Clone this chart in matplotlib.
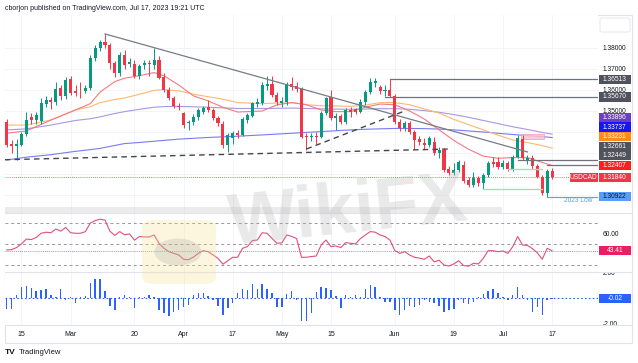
import numpy as np
import pandas as pd
import matplotlib
matplotlib.use("Agg")
import matplotlib.pyplot as plt
from matplotlib.patches import Rectangle, FancyBboxPatch, Circle

plt.rcParams['font.family'] = ['Liberation Sans', 'DejaVu Sans']

# ---- daily USDCAD candles, Feb 10 - Jul 17 2023 ----
dates = pd.bdate_range("2023-02-10", "2023-07-17")

opens = [1.3448, 1.3345, 1.3335, 1.3340, 1.3392, 1.3470, 1.3455, 1.3452, 1.3535, 1.3552,
         1.3545, 1.3608, 1.3573, 1.3651, 1.3597, 1.3597, 1.3595, 1.3608, 1.3754, 1.3798,
         1.3827, 1.3814, 1.3727, 1.3679, 1.3767, 1.3724, 1.3725, 1.3665, 1.3718, 1.3730,
         1.3718, 1.3743, 1.3663, 1.3600, 1.3560, 1.3524, 1.3489, 1.3441, 1.3449, 1.3470,
         1.3495, 1.3518, 1.3505, 1.3465, 1.3438, 1.3338, 1.3370, 1.3394, 1.3385, 1.3457,
         1.3477, 1.3533, 1.3540, 1.3617, 1.3630, 1.3578, 1.3540, 1.3545, 1.3629, 1.3620,
         1.3605, 1.3381, 1.3375, 1.3382, 1.3378, 1.3489, 1.3568, 1.3465, 1.3475, 1.3449,
         1.3505, 1.3508, 1.3497, 1.3544, 1.3592, 1.3635, 1.3612, 1.3595, 1.3600, 1.3572,
         1.3449, 1.3417, 1.3441, 1.3398, 1.3366, 1.3346, 1.3338, 1.3354, 1.3300, 1.3315,
         1.3225, 1.3203, 1.3220, 1.3245, 1.3170, 1.3150, 1.3180, 1.3155, 1.3195, 1.3255,
         1.3255, 1.3235, 1.3251, 1.3222, 1.3283, 1.3365, 1.3265, 1.3278, 1.3240, 1.3187,
         1.3108, 1.3215]
highs = [1.3460, 1.3360, 1.3365, 1.3400, 1.3497, 1.3490, 1.3495, 1.3562, 1.3570, 1.3565,
         1.3640, 1.3625, 1.3660, 1.3665, 1.3625, 1.3640, 1.3625, 1.3765, 1.3815, 1.3840,
         1.3867, 1.3825, 1.3740, 1.3780, 1.3790, 1.3750, 1.3745, 1.3725, 1.3745, 1.3745,
         1.3798, 1.3760, 1.3680, 1.3615, 1.3570, 1.3540, 1.3495, 1.3457, 1.3485, 1.3512,
         1.3525, 1.3552, 1.3515, 1.3478, 1.3450, 1.3395, 1.3405, 1.3410, 1.3470, 1.3490,
         1.3545, 1.3560, 1.3640, 1.3665, 1.3665, 1.3590, 1.3565, 1.3640, 1.3664, 1.3640,
         1.3615, 1.3395, 1.3395, 1.3400, 1.3500, 1.3568, 1.3600, 1.3490, 1.3485, 1.3515,
         1.3520, 1.3515, 1.3555, 1.3600, 1.3655, 1.3655, 1.3625, 1.3625, 1.3651, 1.3580,
         1.3460, 1.3450, 1.3450, 1.3410, 1.3380, 1.3370, 1.3380, 1.3375, 1.3330, 1.3325,
         1.3240, 1.3251, 1.3265, 1.3260, 1.3185, 1.3210, 1.3190, 1.3205, 1.3260, 1.3283,
         1.3283, 1.3265, 1.3262, 1.3290, 1.3386, 1.3386, 1.3290, 1.3290, 1.3250, 1.3195,
         1.3225, 1.3228]
lows = [1.3330, 1.3300, 1.3265, 1.3335, 1.3380, 1.3440, 1.3440, 1.3440, 1.3520, 1.3510,
        1.3530, 1.3550, 1.3555, 1.3575, 1.3570, 1.3560, 1.3585, 1.3600, 1.3740, 1.3785,
        1.3800, 1.3700, 1.3660, 1.3665, 1.3700, 1.3710, 1.3655, 1.3650, 1.3700, 1.3665,
        1.3700, 1.3650, 1.3590, 1.3550, 1.3515, 1.3505, 1.3420, 1.3410, 1.3435, 1.3455,
        1.3485, 1.3495, 1.3455, 1.3430, 1.3325, 1.3306, 1.3345, 1.3370, 1.3380, 1.3445,
        1.3470, 1.3520, 1.3530, 1.3600, 1.3565, 1.3530, 1.3520, 1.3530, 1.3600, 1.3590,
        1.3370, 1.3316, 1.3355, 1.3345, 1.3370, 1.3480, 1.3455, 1.3410, 1.3440, 1.3440,
        1.3470, 1.3485, 1.3490, 1.3530, 1.3580, 1.3615, 1.3580, 1.3570, 1.3567, 1.3440,
        1.3405, 1.3405, 1.3390, 1.3320, 1.3340, 1.3320, 1.3330, 1.3290, 1.3275, 1.3210,
        1.3195, 1.3195, 1.3210, 1.3155, 1.3140, 1.3140, 1.3145, 1.3127, 1.3185, 1.3235,
        1.3225, 1.3222, 1.3215, 1.3215, 1.3275, 1.3265, 1.3250, 1.3225, 1.3180, 1.3100,
        1.3092, 1.3175]
closes = [1.3338, 1.3335, 1.3342, 1.3392, 1.3458, 1.3457, 1.3482, 1.3537, 1.3553, 1.3545,
          1.3603, 1.3573, 1.3648, 1.3587, 1.3587, 1.3594, 1.3611, 1.3754, 1.3798, 1.3830,
          1.3816, 1.3727, 1.3679, 1.3767, 1.3720, 1.3733, 1.3665, 1.3715, 1.3730, 1.3722,
          1.3743, 1.3656, 1.3600, 1.3560, 1.3524, 1.3517, 1.3433, 1.3449, 1.3470, 1.3505,
          1.3513, 1.3505, 1.3465, 1.3441, 1.3338, 1.3386, 1.3396, 1.3385, 1.3460, 1.3481,
          1.3537, 1.3544, 1.3624, 1.3629, 1.3578, 1.3544, 1.3548, 1.3629, 1.3616, 1.3605,
          1.3375, 1.3375, 1.3382, 1.3375, 1.3489, 1.3560, 1.3465, 1.3475, 1.3449, 1.3505,
          1.3497, 1.3497, 1.3544, 1.3592, 1.3640, 1.3642, 1.3594, 1.3602, 1.3572, 1.3449,
          1.3417, 1.3441, 1.3398, 1.3360, 1.3350, 1.3338, 1.3370, 1.3298, 1.3315, 1.3219,
          1.3203, 1.3219, 1.3255, 1.3165, 1.3150, 1.3180, 1.3156, 1.3195, 1.3251, 1.3249,
          1.3235, 1.3251, 1.3222, 1.3283, 1.3370, 1.3275, 1.3278, 1.3240, 1.3187, 1.3108,
          1.3215, 1.3184]

# moving averages, sampled along the session index
ma_idx = [0, 4, 9, 14, 17, 19, 22, 24, 27, 30, 32, 35, 38, 41, 44, 47, 52, 55, 58, 61,
          64, 67, 70, 73, 76, 79, 82, 85, 88, 91, 94, 97, 100, 103, 106, 109, 111]
ma_red = [1.3394, 1.3405, 1.3457, 1.3505, 1.3535, 1.3590, 1.3640, 1.3656, 1.3668, 1.3683,
          1.3668, 1.3624, 1.3572, 1.3548, 1.3518, 1.3495, 1.3500, 1.3529, 1.3540, 1.3530,
          1.3505, 1.3497, 1.3497, 1.3518, 1.3533, 1.3530, 1.3500, 1.3462, 1.3410, 1.3360,
          1.3318, 1.3285, 1.3275, 1.3278, 1.3278, 1.3255, 1.32407]
ma_orange = [1.3433, 1.3433, 1.3457, 1.3505, 1.3520, 1.3540, 1.3555, 1.3562, 1.3580, 1.3598,
             1.3602, 1.3596, 1.3580, 1.3568, 1.3556, 1.3540, 1.3535, 1.3538, 1.3540, 1.3530,
             1.3525, 1.3524, 1.3522, 1.3528, 1.3540, 1.3540, 1.3530, 1.3510, 1.3490, 1.3460,
             1.3435, 1.3410, 1.3385, 1.3362, 1.3350, 1.3335, 1.33231]
ma_purple = [1.3410, 1.3415, 1.3433, 1.3455, 1.3463, 1.3472, 1.3488, 1.3497, 1.3508, 1.3518,
             1.3521, 1.3522, 1.3520, 1.3518, 1.3515, 1.3512, 1.3512, 1.3513, 1.3514, 1.3512,
             1.3510, 1.3509, 1.3508, 1.3509, 1.3511, 1.3511, 1.3508, 1.3502, 1.3494, 1.3483,
             1.3470, 1.3455, 1.3440, 1.3425, 1.3412, 1.3398, 1.33896]
ma_blue = [1.3267, 1.3280, 1.3292, 1.3308, 1.3316, 1.3322, 1.3336, 1.3345, 1.3350, 1.3356,
           1.3360, 1.3366, 1.3370, 1.3374, 1.3377, 1.3380, 1.3386, 1.3390, 1.3394, 1.3398,
           1.3402, 1.3406, 1.3410, 1.3413, 1.3415, 1.3417, 1.3417, 1.3416, 1.3414, 1.3410,
           1.3405, 1.3400, 1.3394, 1.3388, 1.3383, 1.3378, 1.33737]

rsi = [44.2, 44.5, 46.5, 50.0, 54.5, 54.0, 56.0, 60.0, 61.0, 60.5, 64.0, 62.0, 65.5, 60.5,
       60.0, 60.0, 61.5, 69.5, 72.0, 73.3, 72.5, 62.0, 58.0, 61.6, 58.5, 59.4, 53.5, 56.9,
       56.5, 56.5, 58.4, 50.5, 45.8, 42.6, 41.0, 39.5, 35.4, 35.0, 37.5, 41.0, 43.6, 42.6,
       39.5, 36.3, 30.7, 34.1, 37.3, 37.3, 45.8, 47.4, 53.1, 53.6, 60.5, 60.0, 55.2, 50.5,
       51.0, 58.4, 57.0, 55.0, 37.3, 37.3, 38.0, 38.5, 48.9, 53.6, 47.4, 48.0, 46.5, 51.2,
       50.5, 50.0, 55.0, 58.4, 61.6, 61.0, 58.4, 56.9, 53.6, 43.6, 41.0, 42.6, 39.5, 37.3,
       36.5, 35.4, 38.5, 33.0, 34.5, 30.0, 29.0, 31.0, 34.0, 29.5, 28.8, 31.6, 31.0, 36.3,
       43.6, 43.5, 42.6, 43.3, 41.0, 47.4, 56.9, 48.9, 48.5, 45.5, 41.6, 35.4, 45.8, 43.41]

osc = [-0.85, -0.85, 0.26, 0.90, 0.95, 0.77, 0.59, 0.64, 0.69, 0.26, 0.13, 0.69, -0.13, 0.13,
       -0.38, 0.08, 0.20, 1.20, 1.54, 1.54, 0.59, -0.60, -0.90, 0.13, 0.26, 0.13, -0.77, 0.13,
       0.10, 0.26, 0.13, -0.90, -1.15, -1.36, -1.03, -0.90, -0.64, -0.51, 0.26, 0.44, 0.44,
       0.18, -0.13, -0.59, -1.28, -0.77, -0.38, 0.38, 0.69, 0.64, 1.10, 0.69, 1.10, 0.69, 0.44,
       -0.64, -0.69, 0.31, 0.59, -0.13, -1.80, -1.80, -1.15, 0.51, 0.90, 0.77, 0.64, 0.18,
       -0.77, 0.26, 0.13, 0.26, 0.13, 0.69, 1.03, 0.85, 0.08, -0.26, -0.26, -0.90, -1.28,
       -0.90, -0.59, -0.64, -0.51, -0.13, -0.26, -0.38, -0.59, -1.10, -0.90, -0.85, -0.13,
       -0.38, -0.44, -0.26, 0.13, 0.33, 0.59, 0.69, 0.38, 0.08, -0.13, 0.26, 0.85, 0.26,
       -0.13, -1.03, -0.64, -1.28, -0.13, -0.02]

# chart drawings
trend_x, trend_y = [20, 106], [1.3867, 1.3305]
support_x, support_y = [-0.4, 90], [1.3268, 1.3319]
rising_x, rising_y = [61, 81], [1.3319, 1.3500]
gray_levels = [(1.36513, 78), (1.35670, 77), (1.32661, 104), (1.32449, 110)]
green_levels = [(1.3222, 102, 109), (1.3127, 97, 109)]
zone_x, zone_y = (104.6, 109.3), (1.3365, 1.3390)
low_2023, low_start = 1.30922, 110
last_price = 1.31840

tick_dates = ["2023-02-15", "2023-03-01", "2023-03-20", "2023-04-03", "2023-04-17", "2023-05-01",
              "2023-05-15", "2023-06-01", "2023-06-19", "2023-07-03", "2023-07-17"]
tick_labels = ["15", "Mar", "20", "Apr", "17", "May", "15", "Jun", "19", "Jul", "17"]

GREEN, RED = "#089981", "#f23645"
TXT = "#131722"
W, H = 638, 363

fig = plt.figure(figsize=(W / 100, H / 100), dpi=100)


def px(x0, y0, x1, y1):
    return [x0 / W, 1 - y1 / H, (x1 - x0) / W, (y1 - y0) / H]


ax_osc = fig.add_axes(px(5, 272, 598, 325))
ax_rsi = fig.add_axes(px(5, 213, 598, 272), sharex=ax_osc)
ax = fig.add_axes(px(5, 15, 598, 213), sharex=ax_osc)

idx = np.arange(len(dates))
o, h, l, c = map(np.array, (opens, highs, lows, closes))
col = np.where(c >= o, GREEN, RED)

for a in (ax, ax_rsi, ax_osc):
    for s in a.spines.values():
        s.set_visible(False)
    a.yaxis.tick_right()
    a.tick_params(axis="y", length=0, pad=3.2, labelsize=4.8, labelcolor=TXT)
    a.tick_params(axis="x", length=0)
    a.set_facecolor("white")

ax.set_xlim(-0.35, 120.35)
ax.set_ylim(1.30143, 1.39571)
ax_rsi.set_ylim(23.38, 79.17)
ax_osc.set_ylim(-2.08, 2.05)


def y_of(a, v):
    return H - a.transData.transform((0, v))[1]


# value labels on the price scale, stacked upwards so they do not collide
price_labels = [
    (1.30922, "#5b9cf6", TXT),
    (1.31840, RED, "white"),
    (1.32407, "#ff1f1f", "white"),
    (1.32449, "#50535e", "white"),
    (1.32661, "#50535e", "white"),
    (1.33231, "#ff8c1a", "white"),
    (1.33737, "#1515f5", "white"),
    (1.33896, "#6a3fc4", "white"),
    (1.35670, "#50535e", "white"),
    (1.36513, "#50535e", "white"),
]
label_rows = []
prev = None
for v, bg, fg in price_labels:
    yt = y_of(ax, v)
    if prev is not None:
        yt = min(yt, prev - 9.6)
    label_rows.append((yt, v, bg, fg))
    prev = yt


def free(a, ticks, taken, gap=6.0):
    return [t for t in ticks if all(abs(y_of(a, t) - y) >= gap for y in taken)]


tick_pos = dates.get_indexer(pd.to_datetime(tick_dates))
ax_osc.set_xticks(tick_pos)
ax_osc.set_xticklabels(tick_labels)
ax_osc.tick_params(axis="x", pad=4.5, labelsize=5, labelcolor=TXT)
ax.tick_params(axis="x", labelbottom=False)
ax_rsi.tick_params(axis="x", labelbottom=False)

price_ticks = np.arange(1.31, 1.3851, 0.01)
shown = free(ax, price_ticks, [r[0] for r in label_rows])
ax.set_yticks(shown)
ax.set_yticklabels([f"{t:.5f}" for t in shown])
rsi_ticks = free(ax_rsi, [40, 60], [y_of(ax_rsi, rsi[-1])])
ax_rsi.set_yticks(rsi_ticks)
ax_rsi.set_yticklabels([f"{t:.2f}" for t in rsi_ticks])
osc_ticks = free(ax_osc, [-2, 0, 2], [y_of(ax_osc, osc[-1])])
ax_osc.set_yticks(osc_ticks)
ax_osc.set_yticklabels([f"{t:.2f}" for t in osc_ticks])

# faint grid
for a in (ax, ax_rsi, ax_osc):
    for t in tick_pos:
        a.axvline(t, color="#f0f3fa", lw=0.6, zorder=0)
for t in price_ticks:
    ax.axhline(t, color="#f0f3fa", lw=0.6, zorder=0)

# moving averages
ax.plot(ma_idx, ma_blue, color="#7a7af0", lw=0.8, zorder=1)
ax.plot(ma_idx, ma_purple, color="#a898e2", lw=0.8, zorder=1)
ax.plot(ma_idx, ma_orange, color="#ffb870", lw=0.8, zorder=1)
ax.plot(ma_idx, ma_red, color="#f47a82", lw=0.8, zorder=1)

# candles
ax.vlines(idx, l, h, colors=col, lw=0.7, zorder=3)
ax.bar(idx, np.maximum(np.abs(c - o), 0.0002), bottom=np.minimum(o, c), width=0.62,
       color=col, linewidth=0, zorder=3)

# drawings
ax.axhline(last_price, color=RED, lw=0.6, ls=(0, (1, 1.5)), zorder=2)
ax.plot(trend_x, trend_y, color="#787b86", lw=0.9, zorder=4)
ax.plot(support_x, support_y, color="#434651", lw=1.0, ls=(0, (4, 3)), zorder=4)
ax.plot(rising_x, rising_y, color="#434651", lw=1.0, ls=(0, (4, 3)), zorder=4)
for lvl, start in gray_levels:
    ax.plot([start, 120.35], [lvl, lvl], color="#6f727c", lw=0.9, zorder=4)
for lvl, x0, x1 in green_levels:
    ax.plot([x0, x1], [lvl, lvl], color="#a9dcbd", lw=1.0, zorder=4)
ax.add_patch(Rectangle((zone_x[0], zone_y[0]), zone_x[1] - zone_x[0], zone_y[1] - zone_y[0],
                       facecolor="#f7c3d2", edgecolor="#f09ab4", lw=0.6, alpha=0.85, zorder=2))
ax.plot([low_start, 120.35], [low_2023, low_2023], color="#5b9cf6", lw=0.8, zorder=4)
ax.text(119.3, low_2023 - 0.0019, "2023 Low", color="#5b9cf6", fontsize=4.8,
        ha="right", va="center", zorder=5)

# RSI pane
for lv in (70, 50, 30):
    ax_rsi.axhline(lv, color="#9598a1", lw=0.7, ls=(0, (3, 3)), zorder=1)
ax_rsi.axhline(rsi[-1], color="#ec407a", lw=0.6, ls=(0, (1, 1.5)), zorder=1)
ax_rsi.plot(idx, rsi, color="#e0507a", lw=0.8, zorder=3)

# oscillator pane
ax_osc.axhline(0, color="#2962ff", lw=0.8, ls=(0, (1.5, 2)), zorder=1)
ax_osc.bar(idx, osc, width=0.3, color="#2962ff", linewidth=0, zorder=3)

# ---- frame, separators, watermark ----
tf = fig.transFigure
fig.add_artist(Rectangle((5 / W, 1 - 343 / H), 627 / W, 328 / H, transform=tf, fill=False,
                         edgecolor="#e0e3eb", lw=0.8, zorder=0))
for yy in (213, 272, 325):
    fig.add_artist(plt.Line2D([5 / W, 632 / W], [1 - yy / H] * 2, transform=tf,
                              color="#e0e3eb", lw=0.8, zorder=2))
fig.add_artist(Rectangle((599 / W, 1 - 271.5 / H), 32 / W, 4.5 / H, transform=tf,
                         facecolor="white", edgecolor="none", zorder=1))
fig.add_artist(FancyBboxPatch((600 / W, 1 - 32 / H), 30 / W, 14 / H, transform=tf,
                              boxstyle="round,pad=0,rounding_size=0.004", facecolor="white",
                              edgecolor="#e0e3eb", lw=0.6, zorder=2))

fig.add_artist(Rectangle((5 / W, 1 - 213 / H), 497 / W, 6 / H, transform=tf,
                         facecolor="#dcdcdc", alpha=0.55, edgecolor="none", zorder=3))
fig.add_artist(FancyBboxPatch((142 / W, 1 - 284 / H), 74 / W, 64 / H, transform=tf,
                              boxstyle="round,pad=0,rounding_size=0.02", facecolor="#f7df8a",
                              alpha=0.28, edgecolor="none", zorder=3))
fig.add_artist(Circle((178 / W, 1 - 252 / H), 0.037, transform=tf, facecolor="#9a9a9a",
                      alpha=0.22, edgecolor="none", zorder=3))
fig.text(348 / W, 1 - 214 / H, "WikiFX", fontsize=52, fontweight="bold", color="#b0b0b0",
         alpha=0.27, rotation=6, ha="center", va="center", zorder=3)


def label_at(y_top, text, bg, fg="white", x0=598.5, x1=631):
    fig.add_artist(Rectangle((x0 / W, 1 - (y_top + 4.6) / H), (x1 - x0) / W, 9.2 / H,
                             transform=tf, facecolor=bg, edgecolor="none", zorder=5))
    fig.text((x0 + x1) / 2 / W, 1 - y_top / H, text, color=fg, fontsize=4.8,
             ha="center", va="center", zorder=6)


for yt, v, bg, fg in label_rows:
    label_at(yt, f"{v:.5f}", bg, fg)
    if v == last_price:
        label_at(yt, "USDCAD", RED, "white", x0=570, x1=597.5)

label_at(y_of(ax_rsi, rsi[-1]), f"{rsi[-1]:.2f}", "#e91e63")
label_at(y_of(ax_osc, osc[-1]), f"{osc[-1]:.2f}", "#2962ff")

# header / footer
fig.text(5 / W, 1 - 8 / H, "cborjon published on TradingView.com, Jul 17, 2023 19:21 UTC",
         fontsize=5, color=TXT, ha="left", va="center")
fig.text(5 / W, 1 - 353 / H, "TV", fontsize=6, fontweight="heavy", color=TXT,
         ha="left", va="center")
fig.text(19 / W, 1 - 353 / H, "TradingView", fontsize=5.5, color=TXT, ha="left", va="center")

fig.savefig("out.png", dpi=100, facecolor="white")
